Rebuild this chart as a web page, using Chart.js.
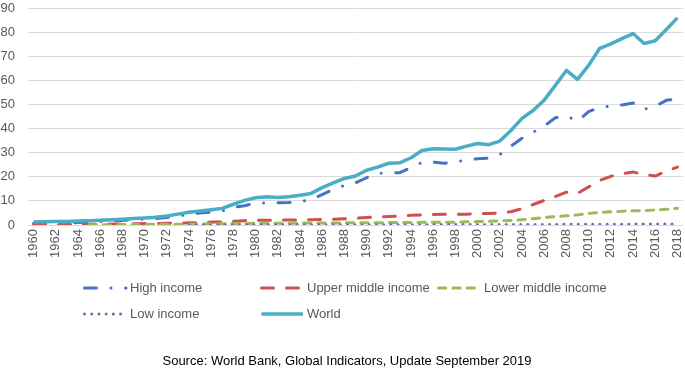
<!DOCTYPE html>
<html>
<head>
<meta charset="utf-8">
<script src="https://cdn.jsdelivr.net/npm/chart.js@4.4.1/dist/chart.umd.min.js"></script>
<style>
html,body{margin:0;padding:0;background:#fff;}
#wrap{position:relative;width:685px;height:371px;}
</style>
</head>
<body>
<div id="wrap"><canvas id="c"></canvas></div>
<script>
const years = ["1960","1961","1962","1963","1964","1965","1966","1967","1968","1969",
"1970","1971","1972","1973","1974","1975","1976","1977","1978","1979",
"1980","1981","1982","1983","1984","1985","1986","1987","1988","1989",
"1990","1991","1992","1993","1994","1995","1996","1997","1998","1999",
"2000","2001","2002","2003","2004","2005","2006","2007","2008","2009",
"2010","2011","2012","2013","2014","2015","2016","2017","2018"];

const highIncome = [0.6,0.7,0.8,0.9,1.0,1.2,1.4,1.6,1.9,2.2,
2.4,2.7,3.1,3.7,4.4,5.0,5.4,5.8,7.3,8.0,
9.1,9.2,9.2,9.3,9.7,10.5,12.6,14.8,16.4,17.5,
19.6,21.4,21.6,21.7,23.8,26.0,26.1,25.6,26.2,27.0,
27.5,27.7,29.2,32.7,36.0,38.5,41.0,44.5,45.2,43.1,
47.0,48.8,49.3,49.8,50.6,48.0,49.3,51.7,52.4];

const upperMiddle = [0.1,0.1,0.1,0.2,0.2,0.3,0.3,0.4,0.4,0.5,
0.6,0.6,0.7,0.8,0.9,1.0,1.2,1.3,1.6,1.8,
2.0,2.0,2.0,2.1,2.1,2.2,2.3,2.4,2.6,2.8,
3.1,3.3,3.5,3.7,4.0,4.2,4.4,4.5,4.5,4.5,
4.7,4.8,4.9,5.5,6.8,8.5,10.2,11.8,13.6,13.1,
15.8,18.5,20.2,21.3,22.0,20.9,20.3,22.3,24.0];

const lowerMiddle = [null,null,null,null,null,0.1,0.1,0.1,0.2,0.2,
0.2,0.3,0.3,0.3,0.4,0.4,0.5,0.5,0.6,0.6,
0.7,0.7,0.7,0.7,0.8,0.8,0.8,0.8,0.9,0.9,
0.9,0.9,1.0,1.0,1.0,1.1,1.1,1.1,1.2,1.3,
1.4,1.5,1.7,1.9,2.2,2.6,3.1,3.5,3.8,4.2,
4.8,5.2,5.5,5.7,5.9,6.0,6.2,6.5,6.9];

const lowIncome = [null,null,null,null,null,null,null,null,null,null,
null,null,null,null,0.1,0.1,0.1,0.1,0.1,0.1,
0.1,0.1,0.1,0.1,0.1,0.1,0.1,0.1,0.1,0.1,
0.1,0.1,0.1,0.1,0.1,0.1,0.2,0.2,0.2,0.2,
0.2,0.2,0.2,0.2,0.2,0.2,0.2,0.2,0.3,0.3,
0.3,0.3,0.3,0.3,0.4,0.4,0.4,0.4,0.4];

const world = [1.2,1.3,1.4,1.5,1.7,1.8,2.0,2.2,2.4,2.7,
2.9,3.2,3.7,4.5,5.3,5.8,6.3,6.9,8.6,10.2,
11.3,11.7,11.4,11.7,12.3,13.1,15.5,17.5,19.3,20.3,
22.7,24.0,25.6,25.8,27.9,30.9,31.6,31.5,31.4,32.7,
33.8,33.3,34.8,39.2,44.2,47.5,51.8,57.9,64.1,60.4,
66.2,73.3,75.1,77.3,79.4,75.3,76.4,81.1,85.9];

const seriesNames = ["High income","Upper middle income","Lower middle income","Low income","World"];
const yTicks = [0,10,20,30,40,50,60,70,80,90];
const sourceText = "Source: World Bank, Global Indicators, Update September 2019";

const FONT = "'Liberation Sans', Arial, sans-serif";
const TXT = "#595959";

const styles = [
  {color:"#4472C4", dash:[12,14.5,0.01,14.5], width:3, order:4},
  {color:"#D0504D", dash:[12,13], width:3, order:3},
  {color:"#9BBB59", dash:[7.3,7], width:3, order:2},
  {color:"#8064A2", dash:[0.01,7.2], width:3, order:1},
  {color:"#4BACC6", dash:[], width:3.5, order:0}
];
const values = [highIncome, upperMiddle, lowerMiddle, lowIncome, world];

const datasets = seriesNames.map((n,i)=>({
  label:n,
  data:values[i],
  borderColor:styles[i].color,
  backgroundColor:styles[i].color,
  borderWidth:styles[i].width,
  borderDash:styles[i].dash,
  borderCapStyle: styles[i].dash.length ? 'round' : 'butt',
  borderJoinStyle:'round',
  pointRadius:0,
  tension:0,
  fill:false,
  spanGaps:false,
  order:styles[i].order
}));

const legendPos = [[83,288],[260,288],[437,288],[83,314],[260,314]];

const customLegend = {
  id:'customLegend',
  afterDraw(chart){
    const ctx = chart.ctx;
    ctx.save();
    chart.data.datasets.forEach((ds,i)=>{
      const [x,y] = legendPos[i];
      ctx.beginPath();
      ctx.strokeStyle = ds.borderColor;
      ctx.lineWidth = ds.borderWidth;
      ctx.lineCap = ds.borderCapStyle;
      ctx.setLineDash(ds.borderDash);
      ctx.moveTo(x+1.5, y);
      ctx.lineTo(x+43, y);
      ctx.stroke();
      ctx.setLineDash([]);
      ctx.fillStyle = TXT;
      ctx.font = "13px " + FONT;
      ctx.textBaseline = 'middle';
      ctx.textAlign = 'left';
      ctx.fillText(ds.label, x+47, y);
    });
    ctx.font = "13px " + FONT;
    ctx.fillStyle = "#000";
    ctx.textAlign = 'center';
    ctx.textBaseline = 'middle';
    ctx.fillText(sourceText, 347, 361);
    ctx.restore();
  }
};

new Chart(document.getElementById('c'), {
  type:'line',
  data:{labels:years, datasets:datasets},
  options:{
    responsive:true,
    maintainAspectRatio:false,
    animation:false,
    layout:{padding:{top:0,right:2,left:0,bottom:0}},
    plugins:{legend:{display:false}, tooltip:{enabled:false}, title:{display:false}},
    scales:{
      x:{
        type:'category',
        offset:true,
        grid:{display:false, drawTicks:false},
        border:{display:false},
        ticks:{
          autoSkip:false,
          minRotation:90, maxRotation:90,
          padding:4,
          color:TXT,
          font:{family:FONT, size:13},
          callback:function(v,i){ return i%2===0 ? this.getLabelForValue(v) : ''; }
        },
        afterFit:(s)=>{ s.height = 146; s.paddingTop = 0; s.paddingBottom = 0; s.paddingLeft = 0; s.paddingRight = 0; }
      },
      y:{
        min:0, max:90,
        afterBuildTicks:(s)=>{ s.ticks = yTicks.map(v=>({value:v})); },
        grid:{color:"#D9D9D9", lineWidth:1, drawTicks:false},
        border:{display:false},
        ticks:{color:TXT, padding:13, font:{family:FONT, size:13}},
        afterFit:(s)=>{ s.width = 28; s.paddingTop = 8; s.paddingBottom = 0; }
      }
    }
  },
  plugins:[customLegend]
});
</script>
</body>
</html>
